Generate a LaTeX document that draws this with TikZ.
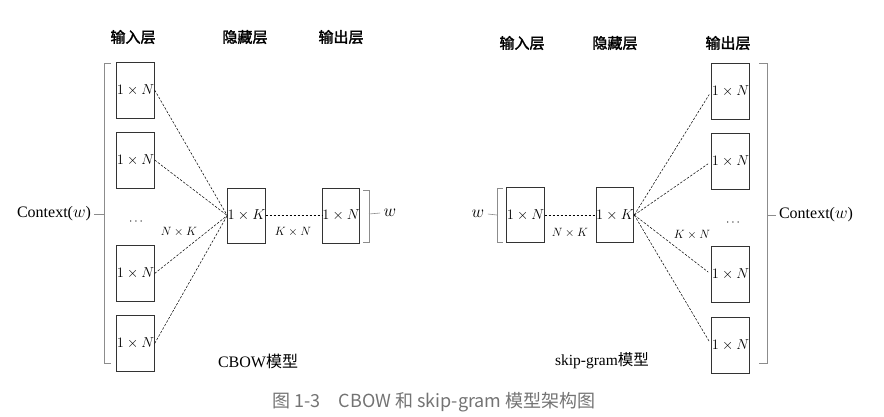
\documentclass[tikz,border=0pt]{standalone}
\usepackage{fontspec}
\setmainfont{Liberation Serif}
\newfontfamily\cjk[AutoFakeBold=2]{Noto Sans CJK SC}
\usetikzlibrary{positioning}
\begin{document}
\begin{tikzpicture}[x=1pt,y=-1pt,
  vec/.style={draw=black!80,line width=0.8pt,minimum width=35pt,minimum height=56pt,inner sep=0pt,font=\fontsize{14}{16}\selectfont},
  link/.style={line width=0.5pt,dash pattern=on 2.5pt off 1.5pt},
  brack/.style={draw=black!45,line width=0.6pt},
  layer/.style={font=\cjk\bfseries\fontsize{15}{17}\selectfont},
  lbl/.style={font=\fontsize{13}{15}\selectfont}]
\useasboundingbox (0,0) rectangle (884,416);
% CBOW
\node[layer] (inT) at (133,37) {输入层};
\node[layer] (hidT) at (245,37) {隐藏层};
\node[layer] (outT) at (341,37) {输出层};
\node[vec] (in1) at (135.5,90) {$1\times N$};
\node[vec] (in2) at (135.5,160) {$1\times N$};
\node[vec] (in3) at (135.5,273.5) {$1\times N$};
\node[vec] (in4) at (135.5,343.5) {$1\times N$};
\node[lbl] (dotsL) at (136,222) {$\cdots$};
\node[vec,minimum height=55pt] (hidL) at (246.5,215.5) {$1\times K$};
\node[vec,minimum height=55pt] (outL) at (341,215.5) {$1\times N$};
\node[lbl] (nkL) at (179,232) {$N\times K$};
\node[lbl] (knL) at (293,232) {$K\times N$};
\foreach \i in {1,...,4}
  \draw[link] (in\i.east) -- (hidL.west);
\draw[link] (hidL.east) -- (outL.west);
\draw[brack] (111,63) -- (104,63) -- (104,363) -- (111,363);
\coordinate (bL) at (104,214);
\node[lbl,font=\fontsize{16}{18}\selectfont] (ctxL) at (54,214) {Context($w$)};
\draw[brack] (ctxL.east) -- (bL);
\draw[brack] (363,190) -- (369,190) -- (369,242) -- (363,242);
\coordinate (bW) at (369,214);
\node[lbl,font=\fontsize{18}{20}\selectfont] (wL) at (390,213) {$w$};
\draw[brack] (bW) -- (wL.west);
\node[font=\fontsize{16}{18}\selectfont] (capL) at (258,361) {CBOW{\cjk 模型}};
% skip-gram
\node[layer] (inT2) at (522,43) {输入层};
\node[layer] (hidT2) at (615,43) {隐藏层};
\node[layer] (outT2) at (728,43) {输出层};
\node[vec,minimum height=55pt] (inR) at (525.5,215) {$1\times N$};
\node[vec,minimum height=55pt] (hidR) at (615,215) {$1\times K$};
\node[vec] (out1) at (730.5,91) {$1\times N$};
\node[vec] (out2) at (730.5,161.5) {$1\times N$};
\node[vec] (out3) at (730.5,274.5) {$1\times N$};
\node[vec] (out4) at (730.5,345) {$1\times N$};
\node[lbl] (dotsR) at (733,223) {$\cdots$};
\node[lbl] (nkR) at (570,233) {$N\times K$};
\node[lbl] (knR) at (692,235) {$K\times N$};
\draw[link] (inR.east) -- (hidR.west);
\foreach \i in {1,...,4}
  \draw[link,shorten >=4pt] (hidR.east) -- (out\i.west);
\draw[brack] (503,188) -- (497,188) -- (497,242) -- (503,242);
\coordinate (bW2) at (497,215);
\node[lbl,font=\fontsize{18}{20}\selectfont] (wR) at (478,214) {$w$};
\draw[brack] (wR.east) -- (bW2);
\draw[brack] (759,63) -- (767,63) -- (767,363) -- (759,363);
\coordinate (bR) at (767,215);
\node[lbl,font=\fontsize{16}{18}\selectfont] (ctxR) at (816,215) {Context($w$)};
\draw[brack] (bR) -- (ctxR.west);
\node[font=\fontsize{15.5}{17}\selectfont] (capR) at (602,361) {skip-gram{\cjk 模型}};
% caption
\node[font=\cjk\fontsize{18}{20}\selectfont,text=black!55] (fig) at (434,402) {图 1-3\hspace{1em}CBOW 和 skip-gram 模型架构图};
\end{tikzpicture}
\end{document}
